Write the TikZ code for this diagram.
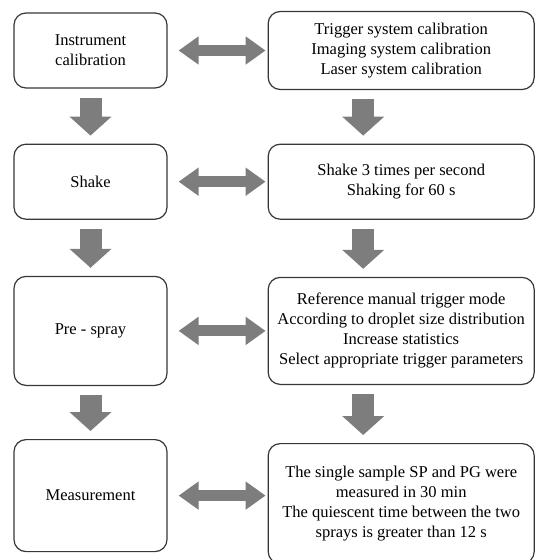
\documentclass[tikz,border=0pt]{standalone}
\usepackage{xcolor}
\usepackage{fontspec}
\setmainfont{Liberation Serif}
\usepackage{tikz}
\usetikzlibrary{arrows.meta,positioning}

\definecolor{arrgray}{RGB}{125,125,125}
\definecolor{boxline}{RGB}{55,55,55}

\begin{document}
\begin{tikzpicture}[
  font=\fontsize{16.5}{20}\selectfont,
  stepl/.style={draw=boxline, line width=1.2pt, rounded corners=12pt, align=center, inner sep=2pt, minimum width=153pt},
  stepr/.style={draw=boxline, line width=1.2pt, rounded corners=12pt, align=center, inner sep=2pt, minimum width=266pt},
  downarr/.style={draw=arrgray, line width=22pt, -{Triangle[width=41pt,length=19pt]}, shorten <=9pt, shorten >=8pt},
  duoarr/.style={draw=arrgray, line width=11pt, {Triangle[width=27pt,length=20pt]}-{Triangle[width=27pt,length=20pt]}, shorten <=11pt, shorten >=2pt}
]
\useasboundingbox (0,0) rectangle (535pt,-560pt);
\node[stepl, minimum height=75pt] (inst) at (90.5pt,-50.5pt) {Instrument\\calibration};
\node[stepl, minimum height=75pt, below=55pt of inst] (shake) {Shake};
\node[stepl, minimum height=109pt, below=56pt of shake] (pre) {Pre - spray};
\node[stepl, minimum height=112pt, below=53pt of pre] (meas) {Measurement};
\node[stepr, minimum height=78pt, right=100pt of inst] (calib) {Trigger system calibration\\Imaging system calibration\\Laser system calibration};
\node[stepr, minimum height=75pt, right=100pt of shake] (times) {Shake 3 times per second\\Shaking for 60 s};
\node[stepr, minimum height=107pt, right=100pt of pre] (trig) {Reference manual trigger mode\\According to droplet size distribution\\Increase statistics\\Select appropriate trigger parameters};
\node[stepr, minimum height=120pt, below=58pt of trig] (quies) {The single sample SP and PG were\\measured in 30 min\hspace*{30pt}\\The quiescent time between the two\\sprays is greater than 12 s};
\draw[downarr] (inst) -- (shake);
\draw[downarr] (shake) -- (pre);
\draw[downarr] (pre) -- (meas);
\draw[downarr] ([xshift=-38pt]calib.south) -- ([xshift=-38pt]times.north);
\draw[downarr] ([xshift=-38pt]times.south) -- ([xshift=-38pt]trig.north);
\draw[downarr] ([xshift=-38pt]trig.south) -- ([xshift=-38pt]quies.north);
\draw[duoarr] (inst.east) -- (inst.east -| calib.west);
\draw[duoarr] (shake.east) -- (shake.east -| times.west);
\draw[duoarr] (pre.east) -- (pre.east -| trig.west);
\draw[duoarr] (meas.east) -- (meas.east -| quies.west);
\end{tikzpicture}
\end{document}
